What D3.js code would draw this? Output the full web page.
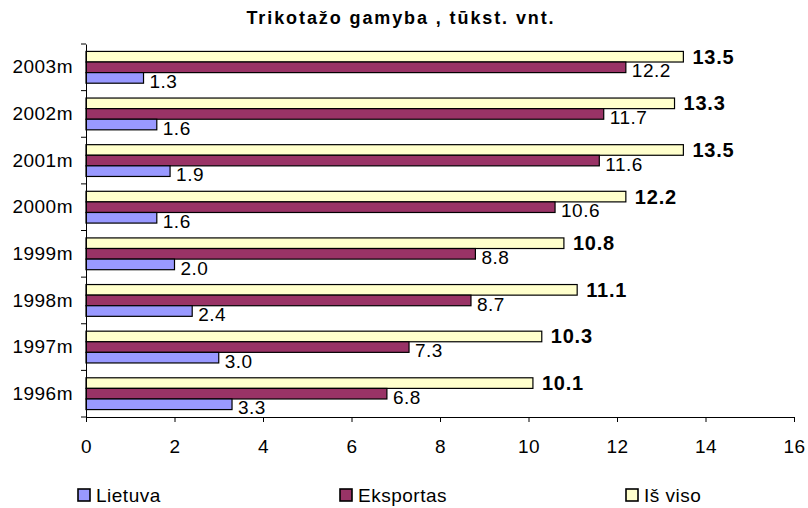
<!DOCTYPE html>
<html><head><meta charset="utf-8">
<script src="https://cdn.jsdelivr.net/npm/d3@7"></script>
<style>body{margin:0;background:#fff}svg{display:block;font-family:"Liberation Sans",Arial,sans-serif}</style>
</head><body>
<svg id="c" width="808" height="508"></svg>
<script>
const categories = ["2003m","2002m","2001m","2000m","1999m","1998m","1997m","1996m"];
const seriesNames = ["Iš viso","Eksportas","Lietuva"];
const isViso    = [13.5,13.3,13.5,12.2,10.8,11.1,10.3,10.1];
const eksportas = [12.2,11.7,11.6,10.6,8.8,8.7,7.3,6.8];
const lietuva   = [1.3,1.6,1.9,1.6,2.0,2.4,3.0,3.3];
const xTicks = [0,2,4,6,8,10,12,14,16];
const colors = {"Iš viso":"#FFFFCC","Eksportas":"#993366","Lietuva":"#9999FF"};
const legendOrder = ["Lietuva","Eksportas","Iš viso"];
const title = "Trikotažo gamyba , tūkst. vnt.";

const values = {"Iš viso":isViso,"Eksportas":eksportas,"Lietuva":lietuva};
const svg = d3.select("#c");
const x = d3.scaleLinear().domain([0,16]).range([86,794]);
const y = d3.scaleBand().domain(categories).range([44,417]).padding(0);
const y1 = d3.scaleBand().domain(seriesNames).range([0,y.bandwidth()]).paddingInner(0).paddingOuter(0.7);

svg.append("text").attr("x",401).attr("y",24).attr("text-anchor","middle")
  .attr("font-weight","bold").attr("font-size",18).attr("letter-spacing",1.9).text(title);

// bars
const g = svg.append("g");
seriesNames.forEach(s=>{
  g.selectAll(null).data(categories).enter().append("rect")
    .attr("x",x(0)).attr("y",(c)=>y(c)+y1(s))
    .attr("width",(c,i)=>x(values[s][i])-x(0)).attr("height",y1.bandwidth())
    .attr("fill",colors[s]).attr("stroke","#000").attr("stroke-width",1.2);
});
// labels
seriesNames.forEach(s=>{
  const bold = s==="Iš viso";
  g.selectAll(null).data(categories).enter().append("text")
    .attr("x",(c,i)=>x(values[s][i])+(bold?9:6))
    .attr("y",(c)=>y(c)+y1(s)+y1.bandwidth()/2+(bold?0:3.5))
    .attr("dy","0.35em")
    .attr("font-size",bold?20:19).attr("font-weight",bold?"bold":"normal")
    .attr("letter-spacing",bold?0.8:0.5)
    .text((c,i)=>values[s][i].toFixed(1));
});

// axes
const xAxis = d3.axisBottom(x).tickValues(xTicks).tickSize(5).tickPadding(18).tickFormat(d3.format("d"));
const xg = svg.append("g").attr("transform","translate(0,417)").call(xAxis);
xg.select(".domain").attr("stroke","#000");
xg.selectAll("text").attr("font-size",19).attr("letter-spacing",0.5).attr("fill","#000").attr("font-family","Liberation Sans, Arial, sans-serif");

const yAxis = d3.axisLeft(y).tickSize(0).tickPadding(13);
const yg = svg.append("g").attr("transform","translate(86,0)").call(yAxis);
yg.select(".domain").attr("stroke","#000");
yg.selectAll("text").attr("font-size",19).attr("letter-spacing",0.5).attr("fill","#000").attr("font-family","Liberation Sans, Arial, sans-serif");
// boundary ticks
const bounds = categories.map(c=>y(c)).concat([y.range()[1]]);
yg.selectAll(".bt").data(bounds).enter().append("line")
  .attr("x1",-5).attr("x2",0).attr("y1",d=>d).attr("y2",d=>d).attr("stroke","#000");

// legend
const lx = {"Lietuva":78,"Eksportas":340,"Iš viso":626};
const lg = svg.append("g");
legendOrder.forEach(s=>{
  lg.append("rect").attr("x",lx[s]).attr("y",489).attr("width",12).attr("height",12)
    .attr("fill",colors[s]).attr("stroke","#000").attr("stroke-width",1.6);
  lg.append("text").attr("x",lx[s]+18).attr("y",495).attr("dy","0.35em").attr("font-size",19).attr("letter-spacing",0.5).text(s);
});
</script>
</body></html>
